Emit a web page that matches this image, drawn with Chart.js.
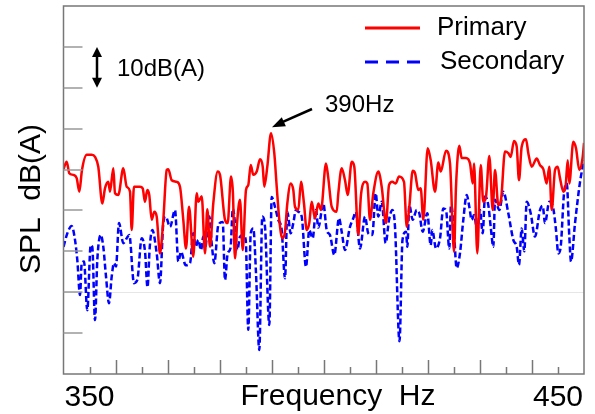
<!DOCTYPE html>
<html>
<head>
<meta charset="utf-8">
<script src="https://cdn.jsdelivr.net/npm/chart.js@4.4.1/dist/chart.umd.min.js"></script>
<style>
  html, body { margin: 0; padding: 0; background: #fff; }
  canvas { display: block; }
</style>
</head>
<body>
<canvas id="spl" width="595" height="414"></canvas>
<script>
// frequency (Hz) / level dB(A)
const primaryHz = [344.44,345.13,345.68,346.54,347.26,347.82,348.39,349.40,350.46,351.17,351.87,352.73,353.30,354.01,354.37,355.08,355.44,356.14,357.21,357.94,358.64,359.00,359.49,360.77,361.35,361.84,362.33,362.75,363.27,363.83,364.34,365.04,365.75,366.48,366.82,367.54,368.61,369.31,370.02,370.59,371.24,372.15,372.88,373.22,373.95,374.65,375.14,375.72,376.42,377.36,377.85,378.92,379.49,380.20,380.60,381.05,381.55,382.12,382.70,383.40,383.89,384.41,384.96,385.69,386.39,386.97,387.31,387.95,388.74,389.44,389.96,390.51,391.15,391.73,392.22,392.95,393.50,393.86,394.57,395.14,395.78,396.36,396.91,397.42,398.13,398.84,399.41,400.48,400.97,401.70,402.76,403.11,403.83,404.54,405.11,405.97,406.52,407.37,407.95,408.81,409.30,409.87,410.58,411.65,412.37,413.29,413.93,414.64,415.36,416.07,417.13,417.71,418.27,418.99,419.48,420.19,420.70,421.25,422.19,422.83,423.75,424.46,424.97,426.10,426.95,427.81,428.23,428.94,429.45,430.37,431.22,431.80,432.08,432.78,433.51,434.06,434.64,435.34,436.07,436.56,437.26,437.84,438.69,439.40,439.91,440.61,441.19,441.68,442.25,443.17,443.67,444.39,445.46,446.16,446.87,447.59,448.15,448.66,449.37,449.94,450.43,451.14,451.65,452.08,452.42,453.27,453.85,454.55,455.28,455.56];
const primaryDb = [70.1,71.9,69.1,68.7,67.9,64.6,69.9,73.6,73.6,73.1,70.7,61.7,65.4,67.0,64.6,70.3,64.2,63.8,70.3,65.8,64.6,55.2,65.8,65.8,65.4,62.1,65.0,63.8,57.7,59.7,58.5,49.5,57.7,69.9,70.1,67.4,67.0,65.8,57.7,50.7,60.9,48.7,64.2,62.1,63.5,49.5,60.3,51.1,61.7,69.5,68.7,57.7,56.9,68.3,64.5,48.3,57.7,62.6,50.3,65.0,66.2,71.1,68.7,69.5,72.5,70.7,65.8,70.7,78.9,74.0,65.8,57.7,53.2,54.8,61.7,66.6,65.0,60.9,60.1,67.0,61.7,55.2,56.9,62.1,58.1,61.7,60.1,71.5,67.9,60.9,59.7,64.2,70.3,67.4,63.8,71.9,70.7,54.0,63.8,67.0,66.6,57.7,64.2,69.5,65.8,56.9,66.2,67.0,66.6,68.3,67.0,56.0,60.9,69.7,69.1,65.0,65.4,57.7,75.2,72.3,64.6,71.7,69.5,74.6,71.5,49.9,65.8,75.8,72.8,72.8,71.5,66.6,71.5,49.5,71.1,62.1,63.4,73.3,60.1,69.9,61.3,62.6,74.4,74.0,73.1,77.0,75.6,67.4,75.6,77.4,74.0,70.7,72.7,71.1,70.1,66.6,70.7,60.1,69.9,70.7,67.9,64.6,66.2,72.3,66.6,76.8,75.2,69.9,73.1,76.5];

const secondaryHz = [344.44,345.26,346.19,346.90,347.39,347.97,348.33,348.82,349.52,350.25,350.59,351.17,351.66,352.39,352.94,353.52,354.16,354.73,355.22,355.65,356.29,357.21,357.94,358.49,359.49,360.20,361.14,361.84,362.38,362.85,363.40,364.34,365.04,365.75,366.26,367.18,368.25,368.95,369.53,370.53,371.45,372.15,372.66,373.22,373.80,374.29,374.65,375.57,376.08,376.64,377.49,378.43,378.92,379.49,380.10,380.60,381.05,381.55,382.12,382.83,383.34,383.89,384.41,384.96,385.54,386.24,386.88,387.46,388.38,388.89,389.59,390.30,391.02,391.73,392.22,392.95,393.50,394.07,394.57,395.29,396.21,396.91,397.64,398.34,398.84,399.91,400.63,401.33,402.25,403.25,403.83,404.54,405.60,406.31,406.82,407.74,408.81,409.51,410.36,411.09,411.65,412.37,413.22,413.93,414.64,415.21,416.17,416.81,417.56,417.84,418.27,418.99,419.84,420.40,421.12,422.11,422.83,423.17,423.96,424.82,425.52,426.10,426.80,427.16,427.65,428.38,429.08,429.79,430.52,431.07,431.58,432.08,432.78,433.35,433.93,434.42,435.13,435.64,436.20,436.56,437.48,438.33,439.40,440.46,441.19,441.68,442.25,442.81,443.32,444.18,445.09,446.16,446.74,447.23,448.15,449.00,449.58,450.07,450.58,451.29,451.87,452.42,452.78,453.64,454.71,455.56];
const secondaryDb = [51.1,54.4,56.2,52.8,47.9,39.3,47.1,47.5,35.6,51.5,51.1,33.2,47.9,54.0,51.1,43.8,37.3,43.8,47.1,46.3,56.9,52.0,53.2,54.0,42.2,43.0,53.2,50.0,41.2,51.0,55.2,49.5,42.2,56.9,58.5,56.0,60.1,47.5,49.9,46.6,47.1,54.4,51.1,52.8,50.3,53.6,50.7,58.5,51.9,47.1,56.4,57.2,43.0,49.5,50.8,60.5,56.9,50.3,53.6,54.0,52.8,30.8,54.4,55.6,44.6,25.9,58.5,56.0,32.0,63.3,60.9,57.7,55.2,43.4,59.7,54.4,56.9,60.1,59.7,58.5,46.2,55.2,53.2,60.1,55.8,61.7,55.2,54.0,49.1,58.1,54.8,50.3,56.0,58.1,59.7,50.7,58.5,54.4,54.0,64.2,58.5,62.1,52.0,57.7,60.1,56.0,28.0,52.8,54.8,51.1,61.3,57.7,60.1,59.3,54.8,59.3,51.5,55.2,50.7,53.2,60.5,60.1,50.7,61.3,57.7,45.9,49.5,57.7,63.8,60.9,57.7,58.9,55.2,60.1,54.4,63.4,61.3,56.0,51.1,62.6,60.1,64.6,59.3,52.8,51.1,46.7,55.6,50.0,62.1,59.3,53.6,60.1,61.1,56.9,62.1,60.5,55.2,49.5,51.1,64.2,66.6,53.6,47.5,56.9,67.0,72.3];

const seriesNames = ["Primary", "Secondary"];
const xLabelValues = [350, 450];
const yTickValues = [30, 40, 50, 60, 70, 80, 90, 100];
const peakHz = 388.74, peakDb = 78.9;

const xMin = 350 - 100 / 18, xMax = 450 + 100 / 18, xStep = 100 / 18;
const yMin = 20, yMax = 110;
const FONT = '"Liberation Sans", Arial, sans-serif';

const toPoints = (xs, ys) => xs.map((x, i) => ({ x, y: ys[i] }));

function arrowHead(ctx, x1, y1, x2, y2, len, half) {
  const a = Math.atan2(y2 - y1, x2 - x1);
  ctx.beginPath();
  ctx.moveTo(x2, y2);
  ctx.lineTo(x2 - len * Math.cos(a) + half * Math.sin(a), y2 - len * Math.sin(a) - half * Math.cos(a));
  ctx.lineTo(x2 - len * Math.cos(a) - half * Math.sin(a), y2 - len * Math.sin(a) + half * Math.cos(a));
  ctx.closePath();
  ctx.fill();
}

const frame = {
  id: "frame",
  beforeDatasetsDraw(chart) {
    const { ctx, chartArea: a, scales: { y } } = chart;
    ctx.save();
    ctx.strokeStyle = "#e6e6e6";
    ctx.lineWidth = 1;
    const gy = Math.round(y.getPixelForValue(40)) + 0.5;
    ctx.beginPath(); ctx.moveTo(a.left, gy); ctx.lineTo(a.right, gy); ctx.stroke();
    ctx.restore();
  },
  afterDatasetsDraw(chart) {
    const { ctx, chartArea: a, scales: { x, y } } = chart;
    ctx.save();

    // box
    ctx.strokeStyle = "#777";
    ctx.lineWidth = 1.5;
    ctx.strokeRect(a.left, a.top, a.right - a.left, a.bottom - a.top);

    // y ticks, inward
    ctx.strokeStyle = "#999";
    ctx.lineWidth = 1.5;
    yTickValues.forEach(v => {
      const py = Math.round(y.getPixelForValue(v));
      ctx.beginPath(); ctx.moveTo(a.left, py); ctx.lineTo(a.left + 19, py); ctx.stroke();
    });

    // x ticks, inward, alternating long/short
    ctx.strokeStyle = "#777";
    for (let k = 1; k < 20; k++) {
      const px = Math.round(x.getPixelForValue(xMin + k * xStep)) + 0.5;
      const len = k % 2 === 0 ? 14 : 7;
      ctx.beginPath(); ctx.moveTo(px, a.bottom); ctx.lineTo(px, a.bottom - len); ctx.stroke();
    }

    // axis text
    ctx.fillStyle = "#000";
    ctx.textBaseline = "alphabetic";
    ctx.font = "30px " + FONT;
    ctx.textAlign = "center";
    xLabelValues.forEach(v => ctx.fillText(String(v), x.getPixelForValue(v), 406));
    ctx.fillText("Frequency  Hz", 338, 405);

    ctx.save();
    ctx.translate(40, 199);
    ctx.rotate(-Math.PI / 2);
    ctx.fillText("SPL  dB(A)", 0, 0);
    ctx.restore();

    // legend
    const ds = chart.data.datasets;
    ctx.lineWidth = 3;
    ctx.strokeStyle = ds[0].borderColor;
    ctx.beginPath(); ctx.moveTo(365, 28); ctx.lineTo(420, 28); ctx.stroke();
    ctx.strokeStyle = ds[1].borderColor;
    ctx.setLineDash([13, 8]);
    ctx.beginPath(); ctx.moveTo(365, 62); ctx.lineTo(421, 62); ctx.stroke();
    ctx.setLineDash([]);
    ctx.font = "26px " + FONT;
    ctx.textAlign = "left";
    ctx.fillText(ds[0].label, 437, 35);
    ctx.fillText(ds[1].label, 440, 69);

    // 10 dB(A) scale marker
    const ax = 97, ay1 = y.getPixelForValue(100), ay2 = y.getPixelForValue(90);
    ctx.strokeStyle = "#000";
    ctx.lineWidth = 2.5;
    ctx.beginPath(); ctx.moveTo(ax, ay1 + 6); ctx.lineTo(ax, ay2 - 6); ctx.stroke();
    arrowHead(ctx, ax, ay2, ax, ay1, 10, 5);
    arrowHead(ctx, ax, ay1, ax, ay2, 10, 5);
    ctx.font = "24px " + FONT;
    ctx.fillText("10dB(A)", 117, 76);

    // 390 Hz callout
    const tx = x.getPixelForValue(peakHz) + 1, ty = y.getPixelForValue(peakDb) - 6;
    ctx.beginPath(); ctx.moveTo(312, 109); ctx.lineTo(tx + 8, ty - 4); ctx.stroke();
    arrowHead(ctx, 312, 109, tx, ty, 13, 5);
    ctx.fillText("390Hz", 325, 112);

    ctx.restore();
  }
};

new Chart(document.getElementById("spl"), {
  type: "line",
  data: {
    datasets: [
      {
        label: seriesNames[0],
        data: toPoints(primaryHz, primaryDb),
        borderColor: "#ff0000",
        borderWidth: 2.5,
      },
      {
        label: seriesNames[1],
        data: toPoints(secondaryHz, secondaryDb),
        borderColor: "#0000ff",
        borderWidth: 2.5,
        borderDash: [6, 3],
      },
    ],
  },
  options: {
    responsive: false,
    animation: false,
    devicePixelRatio: 1,
    layout: { padding: { left: 63.5, right: 11, top: 6, bottom: 40 } },
    elements: {
      point: { radius: 0 },
      line: { cubicInterpolationMode: "monotone", fill: false, borderJoinStyle: "round" },
    },
    plugins: { legend: { display: false }, tooltip: { enabled: false } },
    scales: {
      x: { type: "linear", min: xMin, max: xMax, display: false },
      y: { type: "linear", min: yMin, max: yMax, display: false },
    },
  },
  plugins: [frame],
});
</script>
</body>
</html>
